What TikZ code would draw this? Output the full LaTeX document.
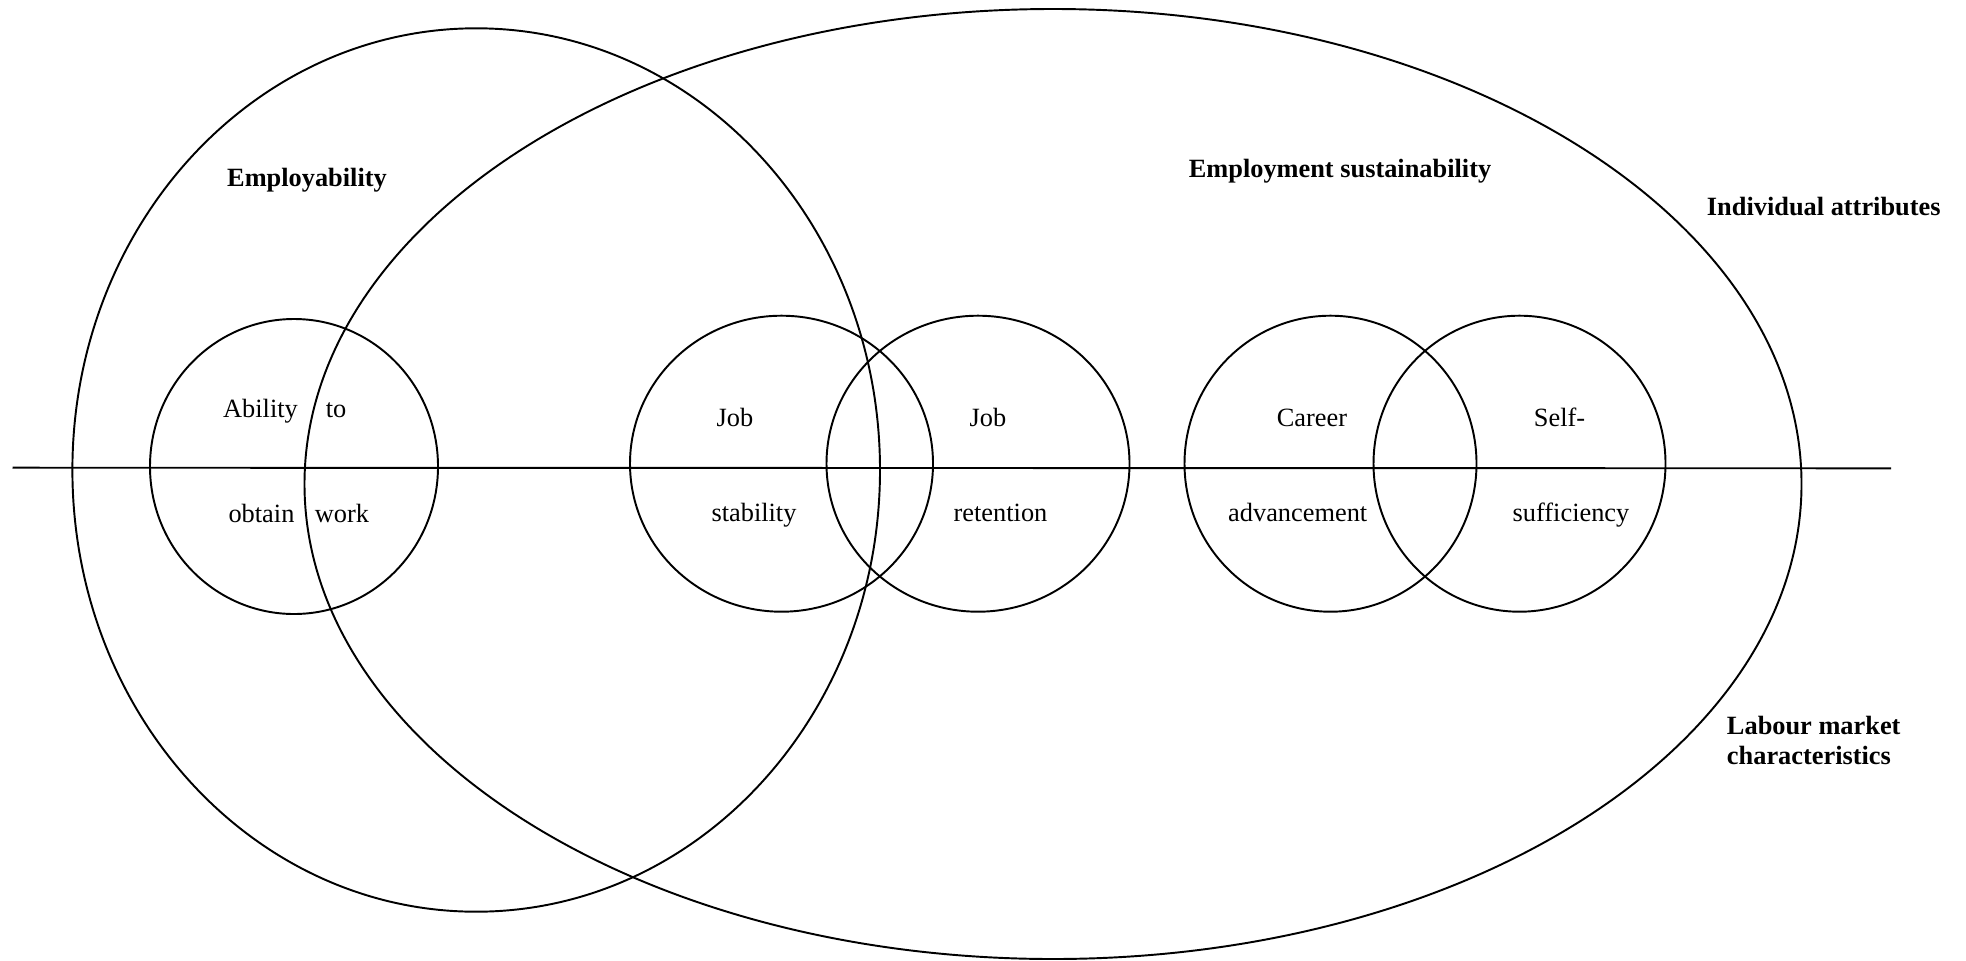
\documentclass[tikz,border=0pt]{standalone}
\usepackage{fontspec}
\setmainfont{Liberation Serif}
\begin{document}
\begin{tikzpicture}[x=0.02cm,y=-0.02cm,
  every path/.style={line width=1.1pt},
  lbl/.style={anchor=base,inner sep=0pt,font=\fontsize{15}{17}\selectfont},
  blbl/.style={lbl,font=\fontsize{15}{17}\selectfont\bfseries}]
\useasboundingbox (0,0) rectangle (1966,960);
% big ellipses
\draw (476.2,470) ellipse [x radius=403.8, y radius=441.7];
\draw (1053,484) ellipse [x radius=748.5, y radius=475];
% axis line
\coordinate (L) at (12.5,467.7);
\coordinate (R) at (1891,468.3);
\draw (L) -- (R);
% small circles
\draw (294,466.5) ellipse [x radius=144, y radius=147.5];
\draw (781.5,463.7) ellipse [x radius=151.5, y radius=148];
\draw (978,463.7) ellipse [x radius=151.5, y radius=148];
\draw (1330.5,463.7) ellipse [x radius=146, y radius=148];
\draw (1519.5,463.7) ellipse [x radius=146, y radius=148];
% labels
\node[blbl] (emp) at (307,186.7) {Employability};
\node[blbl] (sus) at (1340,177) {Employment sustainability};
\node[blbl,anchor=base west] (ind) at (1706,215.7) {Individual attributes};
\node[blbl,anchor=base west] (lab1) at (1726,734) {Labour market};
\node[blbl,anchor=base west] (lab2) at (1726,764) {characteristics};
\node[lbl] (a1) at (260.5,417) {Ability};
\node[lbl] (a2) at (336,417) {to};
\node[lbl] (a3) at (261.5,522) {obtain};
\node[lbl] (a4) at (342,522) {work};
\node[lbl] (b1) at (735,426) {Job};
\node[lbl] (b2) at (754,521) {stability};
\node[lbl] (c1) at (988,426) {Job};
\node[lbl] (c2) at (1000.5,521) {retention};
\node[lbl] (d1) at (1312,426) {Career};
\node[lbl] (d2) at (1297.7,521.7) {advancement};
\node[lbl] (e1) at (1559.5,426) {Self-};
\node[lbl] (e2) at (1571,521.7) {sufficiency};
\end{tikzpicture}
\end{document}
